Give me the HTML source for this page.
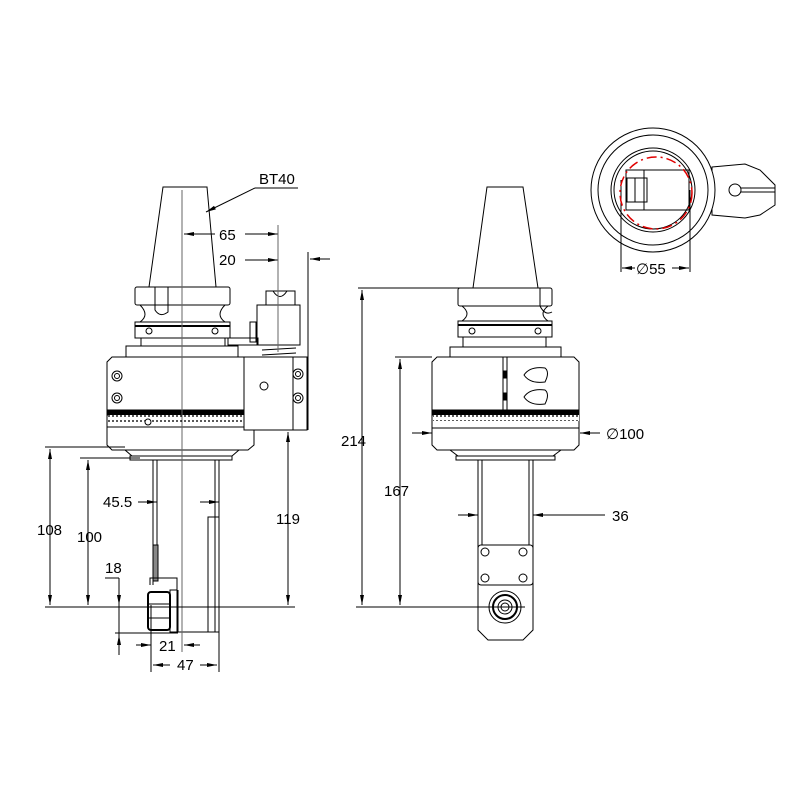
<!DOCTYPE html>
<html><head><style>html,body{margin:0;padding:0;background:#fff}svg{display:block}</style></head><body>
<svg width="800" height="800" viewBox="0 0 800 800" xmlns="http://www.w3.org/2000/svg" font-family="Liberation Sans, sans-serif">
<defs>
<pattern id="tk" x="0" y="0" width="4" height="10" patternUnits="userSpaceOnUse"><rect width="4" height="10" fill="#fff"/><line x1="1" y1="0" x2="1" y2="7" stroke="#000" stroke-width="1.3"/></pattern>
<marker id="a" markerWidth="10" markerHeight="6" refX="10" refY="3" orient="auto-start-reverse" markerUnits="userSpaceOnUse"><path d="M0,1 L10,3 L0,5 Z" fill="#000"/></marker>
</defs>
<g fill="none" stroke="#000" stroke-width="1">
<!-- LEFT VIEW -->
<path d="M163,187 L207,187 L216,287 L149,287 Z" fill="#fff"/>
<rect x="135" y="287" width="95" height="18" rx="2"/>
<path d="M140,305 Q150,315 140,322 L225,322 Q215,315 225,305"/>
<rect x="135" y="322" width="95" height="16"/>
<line x1="135" y1="326" x2="230" y2="326" stroke-width="2"/>
<circle cx="149" cy="331" r="3"/><circle cx="215" cy="331" r="3"/>
<path d="M155,287 L155,310 Q160,318 168,312 L168,287"/>
<rect x="141" y="338" width="84" height="8"/>
<rect x="126" y="346" width="112" height="11"/>
<path d="M112,357 L249,357 L254,362 L254,445 L248,450 L112,450 L107,445 L107,362 Z" fill="#fff"/>
<rect x="108" y="410" width="146" height="5" fill="#000"/>
<rect x="108" y="415" width="146" height="7" fill="url(#tk)" stroke="none"/>
<line x1="107" y1="427" x2="254" y2="427"/>
<circle cx="148" cy="422" r="3" fill="#fff"/>
<circle cx="117" cy="376" r="5"/><circle cx="117" cy="376" r="2.5"/>
<circle cx="117" cy="398" r="5"/><circle cx="117" cy="398" r="2.5"/>
<path d="M125,450 L132,456 L232,456 L239,450"/>
<rect x="130" y="456" width="102" height="4"/>
<rect x="244" y="357" width="63" height="73" fill="#fff"/>
<line x1="293" y1="357" x2="293" y2="430"/>
<circle cx="298" cy="374" r="5"/><circle cx="298" cy="374" r="2.5"/>
<circle cx="298" cy="398" r="5"/><circle cx="298" cy="398" r="2.5"/>
<circle cx="264" cy="386" r="4"/>
<rect x="257" y="305" width="43" height="40"/>
<rect x="266" y="291" width="29" height="14"/>
<path d="M273,291 Q280,302 287,291"/>
<path d="M262,345 L298,345 M262,350 L296,348 M262,355 L296,353"/>
<rect x="250" y="322" width="6" height="20"/>
<rect x="228" y="338" width="30" height="7"/>
<!-- shaft -->
<line x1="153" y1="460" x2="153" y2="585"/><line x1="157" y1="460" x2="157" y2="578"/>
<line x1="215" y1="460" x2="215" y2="632"/><line x1="219" y1="460" x2="219" y2="632"/>
<rect x="153" y="545" width="5" height="36" fill="#888"/>
<path d="M150,585 L150,578 L177,578 L177,590"/>
<rect x="208" y="517" width="11" height="115"/>
<path d="M178,590 L178,632 L219,632"/>
<rect x="148" y="592" width="22" height="38" rx="3" stroke-width="2"/>
<rect x="170" y="590" width="7" height="42"/>
<line x1="148" y1="604" x2="170" y2="604"/><line x1="148" y1="618" x2="170" y2="618"/>
<!-- centerline -->
<line x1="182" y1="190" x2="182" y2="652" stroke="#666"/>
<!-- dims left -->
<line x1="45" y1="607" x2="295" y2="607"/>
<line x1="45" y1="447" x2="125" y2="447"/>
<line x1="80" y1="458" x2="140" y2="458"/>
<line x1="50" y1="449" x2="50" y2="605" marker-start="url(#a)" marker-end="url(#a)"/>
<line x1="88" y1="460" x2="88" y2="605" marker-start="url(#a)" marker-end="url(#a)"/>
<line x1="288" y1="432" x2="288" y2="605" marker-start="url(#a)" marker-end="url(#a)"/>
<line x1="138" y1="502" x2="157" y2="502" marker-end="url(#a)"/>
<line x1="200" y1="502" x2="219" y2="502" marker-end="url(#a)"/>
<line x1="105" y1="578" x2="119" y2="578"/>
<line x1="119" y1="578" x2="119" y2="655"/>
<line x1="119" y1="588" x2="119" y2="605" marker-end="url(#a)"/>
<line x1="115" y1="633" x2="178" y2="633"/>
<line x1="119" y1="648" x2="119" y2="635" marker-end="url(#a)"/>
<line x1="151" y1="605" x2="151" y2="672"/>
<line x1="219" y1="632" x2="219" y2="672"/>
<line x1="136" y1="645" x2="151" y2="645" marker-end="url(#a)"/>
<line x1="200" y1="645" x2="184" y2="645" marker-end="url(#a)"/>
<line x1="170" y1="665" x2="153" y2="665" marker-end="url(#a)"/>
<line x1="200" y1="665" x2="217" y2="665" marker-end="url(#a)"/>
<line x1="245" y1="234" x2="278" y2="234" marker-end="url(#a)"/>
<line x1="215" y1="234" x2="184" y2="234" marker-end="url(#a)"/>
<line x1="245" y1="260" x2="278" y2="260" marker-end="url(#a)"/>
<line x1="278" y1="225" x2="278" y2="352" stroke="#666"/>
<line x1="308" y1="252" x2="308" y2="430"/>
<line x1="330" y1="259" x2="310" y2="259" marker-end="url(#a)"/>
<line x1="255" y1="188" x2="298" y2="188"/>
<line x1="255" y1="188" x2="206" y2="212" marker-end="url(#a)"/>
<!-- MIDDLE VIEW -->
<path d="M487,187 L523,187 L538,288 L473,288 Z" fill="#fff"/>
<rect x="458" y="288" width="94" height="18" rx="2"/>
<path d="M462,306 Q472,314 462,321 L548,321 Q538,314 548,306"/>
<rect x="458" y="321" width="94" height="16"/>
<line x1="458" y1="325" x2="552" y2="325" stroke-width="2"/>
<circle cx="472" cy="331" r="3"/><circle cx="538" cy="331" r="3"/>
<path d="M540,288 L540,306 Q545,316 552,312"/>
<rect x="463" y="337" width="83" height="10"/>
<rect x="450" y="347" width="111" height="10"/>
<path d="M437,357 L574,357 L579,362 L579,445 L574,450 L437,450 L432,445 L432,362 Z" fill="#fff"/>
<rect x="433" y="410" width="146" height="5" fill="#000"/>
<rect x="433" y="415" width="146" height="6" fill="url(#tk)" stroke="none"/>
<line x1="432" y1="428" x2="579" y2="428"/>
<line x1="503" y1="357" x2="503" y2="410"/><line x1="507" y1="357" x2="507" y2="410"/>
<rect x="503" y="371" width="4" height="7" fill="#000"/><rect x="503" y="393" width="4" height="7" fill="#000"/>
<path d="M524,375 Q530,366 545,368 Q550,372 545,382 Q530,384 524,375 Z"/>
<path d="M524,397 Q530,388 545,390 Q550,394 545,404 Q530,406 524,397 Z"/>
<path d="M450,450 L458,456 L553,456 L561,450"/>
<rect x="456" y="456" width="99" height="4"/>
<line x1="478" y1="460" x2="478" y2="615"/><line x1="482" y1="460" x2="482" y2="545"/>
<line x1="533" y1="460" x2="533" y2="615"/><line x1="529" y1="460" x2="529" y2="545"/>
<rect x="478" y="545" width="55" height="40" rx="3"/>
<circle cx="485" cy="552" r="4"/><circle cx="523" cy="552" r="4"/>
<circle cx="485" cy="578" r="4"/><circle cx="523" cy="578" r="4"/>
<path d="M478,615 L478,630 L488,640 L523,640 L533,630 L533,615"/>
<circle cx="505" cy="607" r="16"/><circle cx="505" cy="607" r="12" stroke-width="2"/>
<circle cx="505" cy="607" r="7"/><circle cx="505" cy="607" r="4"/>
<line x1="358" y1="288" x2="472" y2="288"/>
<line x1="395" y1="357" x2="432" y2="357"/>
<line x1="356" y1="607" x2="525" y2="607"/>
<line x1="362" y1="290" x2="362" y2="605" marker-start="url(#a)" marker-end="url(#a)"/>
<line x1="400" y1="359" x2="400" y2="605" marker-start="url(#a)" marker-end="url(#a)"/>
<line x1="412" y1="433" x2="432" y2="433" marker-end="url(#a)"/>
<line x1="600" y1="433" x2="580" y2="433" marker-end="url(#a)"/>
<line x1="458" y1="515" x2="478" y2="515" marker-end="url(#a)"/>
<line x1="605" y1="515" x2="533" y2="515" marker-end="url(#a)"/>
<!-- TOP RIGHT VIEW -->
<path d="M712,167 L745,164 L760,170 L775,185 L775,205 L760,215 L745,218 L712,215 Z" fill="#fff"/>
<circle cx="653" cy="190" r="62" fill="#fff"/>
<circle cx="653" cy="190" r="55"/>
<circle cx="653" cy="190" r="42"/>
<circle cx="653" cy="190" r="39"/>
<circle cx="735" cy="190" r="6"/>
<line x1="741" y1="188" x2="775" y2="188"/><line x1="741" y1="192" x2="775" y2="192"/>
<rect x="626" y="170" width="63" height="40"/>
<line x1="644" y1="170" x2="644" y2="210"/>
<rect x="627" y="178" width="20" height="24"/>
<line x1="635" y1="178" x2="635" y2="202"/>
<line x1="621" y1="180" x2="621" y2="272"/><line x1="690" y1="190" x2="690" y2="272"/>
<line x1="635" y1="268" x2="622" y2="268" marker-end="url(#a)"/>
<line x1="672" y1="268" x2="689" y2="268" marker-end="url(#a)"/>
</g>
<circle cx="656" cy="193" r="36" fill="none" stroke="#e00000" stroke-width="1.5" stroke-dasharray="10,4,2,4"/>
<g font-size="15" fill="#000">
<text x="259" y="184">BT40</text>
<text x="219" y="240">65</text>
<text x="219" y="265">20</text>
<text x="37" y="535">108</text>
<text x="77" y="542">100</text>
<text x="276" y="524">119</text>
<text x="103" y="507">45.5</text>
<text x="105" y="573">18</text>
<text x="159" y="651">21</text>
<text x="177" y="670">47</text>
<text x="341" y="446">214</text>
<text x="384" y="496">167</text>
<text x="606" y="439">∅100</text>
<text x="612" y="521">36</text>
<text x="636" y="274">∅55</text>
</g>
</svg>
</body></html>
